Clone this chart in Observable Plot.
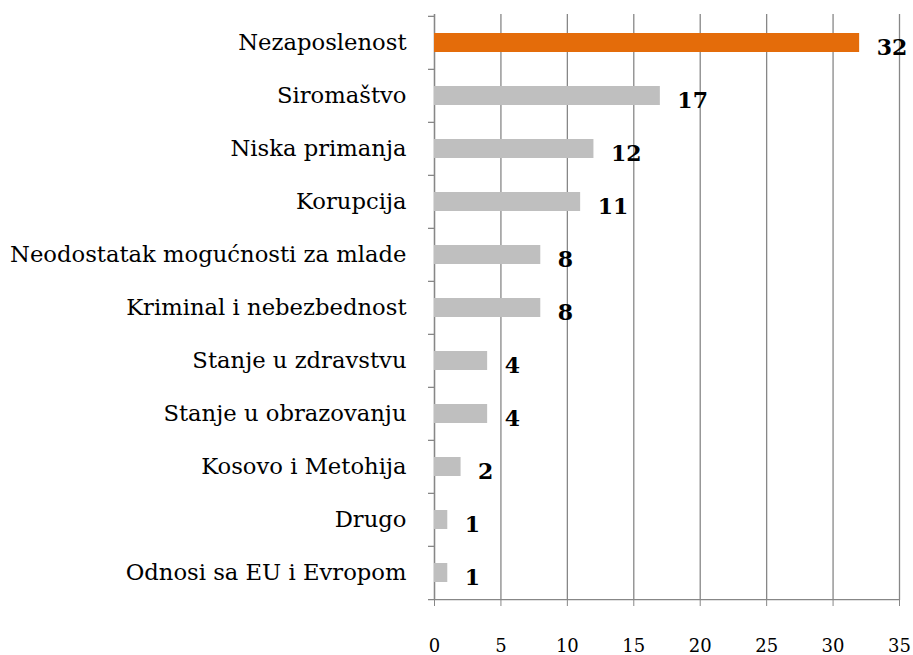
<!DOCTYPE html>
<html>
<head>
<meta charset="utf-8">
<script src="https://cdn.jsdelivr.net/npm/d3@7"></script>
<script src="https://cdn.jsdelivr.net/npm/@observablehq/plot@0.6"></script>
<style>
  html, body { margin: 0; padding: 0; background: #fff; }
  #chart svg { display: block; }
</style>
</head>
<body>
<div id="chart"></div>
<script>
const categories = [
  "Nezaposlenost",
  "Siromaštvo",
  "Niska primanja",
  "Korupcija",
  "Neodostatak mogućnosti za mlade",
  "Kriminal i nebezbednost",
  "Stanje u zdravstvu",
  "Stanje u obrazovanju",
  "Kosovo i Metohija",
  "Drugo",
  "Odnosi sa EU i Evropom"
];
const values = [32, 17, 12, 11, 8, 8, 4, 4, 2, 1, 1];
const xTicks = [0, 5, 10, 15, 20, 25, 30, 35];

const data = categories.map((c, i) => ({category: c, value: values[i], highlight: i === 0}));

const W = 913, H = 655;
const mTop = 14, mBottom = 55, mLeft = 434, mRight = 14;
const step = (H - mTop - mBottom) / categories.length;
const tickLen = 6 / ((W - mLeft - mRight) / 35);

const serif = "'DejaVu Serif', 'Liberation Serif', serif";

const chart = Plot.plot({
  width: W,
  height: H,
  marginTop: mTop,
  marginBottom: mBottom,
  marginLeft: mLeft,
  marginRight: mRight,
  style: {fontFamily: serif, color: "#000", background: "#fff"},
  x: {domain: [0, 35], ticks: xTicks, label: null},
  y: {domain: categories, paddingInner: 0.65, paddingOuter: 0.325, label: null},
  marks: [
    Plot.gridX(xTicks, {stroke: "#878787", strokeOpacity: 1, strokeWidth: 1.3}),
    Plot.ruleX([0], {stroke: "#878787", strokeWidth: 1.3}),
    Plot.ruleY(categories, {y: d => d, x1: -tickLen, x2: 0, dy: -step / 2, stroke: "#878787", strokeWidth: 1.3}),
    Plot.ruleY([categories[categories.length - 1]], {y: d => d, x1: -tickLen, x2: 35, dy: step / 2, stroke: "#878787", strokeWidth: 1.3}),
    Plot.barX(data, {y: "category", x: "value", fill: d => d.highlight ? "#E46C0A" : "#BFBFBF"}),
    Plot.text(data, {y: "category", x: "value", text: d => String(d.value), textAnchor: "start", dx: 17, dy: 5, fontWeight: "bold", fontSize: 22, fill: "#000"}),
    Plot.axisX({ticks: xTicks, tickSize: 6, tickPadding: 33, fontSize: 18, stroke: "#878787", tickFormat: d => String(d), label: null}),
    Plot.axisY({tickSize: 0, tickPadding: 28, fontSize: 22.7, label: null})
  ]
});
document.getElementById("chart").appendChild(chart);
</script>
</body>
</html>
